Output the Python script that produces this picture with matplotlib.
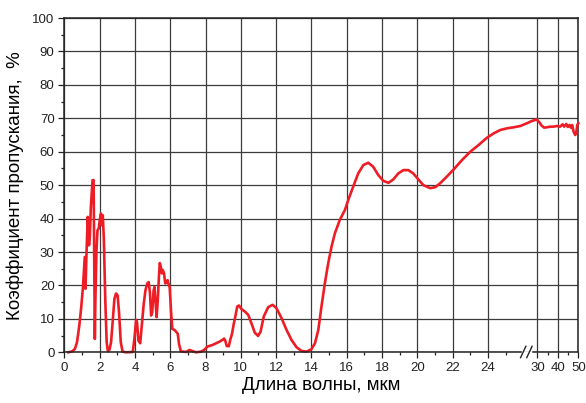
import numpy as np
import matplotlib
matplotlib.use("Agg")
import matplotlib.pyplot as plt
from matplotlib.ticker import FixedLocator, NullFormatter

plt.rcParams['font.family'] = ['Liberation Sans', 'DejaVu Sans']

# ---- data ----
wavelength = [0.23, 0.45, 0.6, 0.72, 0.85, 0.95, 1.05, 1.12, 1.16, 1.2, 1.26, 1.33, 1.4, 1.45,
              1.5, 1.56, 1.6, 1.66, 1.69, 1.73, 1.76, 1.82, 1.88, 1.95, 2.02, 2.08, 2.13, 2.18,
              2.24, 2.32, 2.4, 2.47, 2.56, 2.65, 2.74, 2.84, 2.93, 3.02, 3.1, 3.2, 3.3, 3.5,
              3.88, 3.98, 4.07, 4.12, 4.2, 4.3, 4.4, 4.5, 4.6, 4.7, 4.78, 4.85, 4.92, 4.98,
              5.06, 5.11, 5.17, 5.23, 5.3, 5.36, 5.41, 5.47, 5.53, 5.58, 5.65, 5.72, 5.79,
              5.85, 5.9, 5.97, 6.05, 6.12, 6.24, 6.33, 6.43, 6.5, 6.6, 6.9, 7.09, 7.24, 7.46,
              7.74, 7.93, 8.1, 8.4, 8.6, 8.8, 8.98, 9.05, 9.12, 9.2, 9.32, 9.4, 9.5, 9.6, 9.7,
              9.8, 9.9, 10.04, 10.23, 10.42, 10.6, 10.79, 10.98, 11.12, 11.3, 11.55, 11.8,
              12.02, 12.31, 12.59, 12.87, 13.16, 13.44, 13.72, 14.0, 14.2, 14.39, 14.57, 14.76,
              14.95, 15.14, 15.33, 15.61, 15.9, 16.09, 16.37, 16.65, 16.94, 17.22, 17.5, 17.79,
              18.07, 18.36, 18.64, 18.92, 19.21, 19.49, 19.77, 20.06, 20.34, 20.73, 21.02,
              21.3, 21.68, 22.06, 22.53, 23.0, 23.47, 23.95, 24.33, 24.7, 25.08, 25.46, 25.84,
              26.2, 26.45, 29.7, 30.0, 31.0, 32.1, 33.3, 34.6, 36.2, 37.9, 39.5, 41.1, 42.3,
              43.1, 44.1, 44.9, 45.7, 46.4, 47.0, 47.7, 48.5, 49.0, 49.5, 50.0]
transmission = [0, 0.3, 1.0, 3, 8, 13, 19, 25, 28.5, 19, 30, 40.5, 32, 35,
                43, 48, 51.5, 51.5, 30, 4, 15, 30, 36.5, 37, 40, 41.5, 38, 41,
                34, 16, 3, 0.3, 0.8, 3, 9, 16, 17.6, 17, 12, 3, 0.2, 0,
                0.1, 4.5, 9.7, 9, 3.5, 2.7, 8.5, 14.5, 18.6, 20.6, 21, 18, 11, 12,
                18.5, 19.6, 15, 10.5, 16, 22.6, 26.7, 25.5, 23.6, 24.6, 23.6, 20.6, 21,
                21.6, 20.5, 19.5, 12, 7, 6.7, 6.2, 5.5, 2.5, 0.3, 0.1, 0.7, 0.4, 0,
                0.2, 0.7, 1.7, 2.2, 2.7, 3.2, 3.8, 4.1, 3.5, 1.9, 1.8, 3.7, 5.5, 8.5, 11,
                13.7, 14.0, 12.9, 12.2, 11.2, 8.7, 5.9, 4.9, 6.2, 10.7, 13.5, 14.2,
                13.2, 10.2, 6.7, 3.7, 1.5, 0.4, 0.2, 0.9, 2.7, 6.7, 13.7, 20.6,
                26.6, 31.6, 35.6, 39.6, 42.6, 45.6, 49.6, 53.5, 56.0, 56.7, 55.5, 53.0,
                51.3, 50.7, 51.7, 53.5, 54.5, 54.5, 53.5, 51.7, 50.0, 49.1, 49.4,
                50.6, 52.6, 54.7, 57.5, 60.0, 62.0, 64.2, 65.5, 66.5, 67.0, 67.3, 67.7,
                68.5, 69.1, 69.7, 69.4, 68.8, 67.8, 67.2, 67.3, 67.5, 67.5, 67.7, 67.5, 68.2,
                67.5, 68.3, 67.4, 68.0, 67.2, 68.0, 66.0, 65.0, 65.7, 68.0, 68.5]

x_major = [0, 2, 4, 6, 8, 10, 12, 14, 16, 18, 20, 22, 24, 30, 40, 50]
x_minor = [1, 3, 5, 7, 9, 11, 13, 15, 17, 19, 21, 23, 25, 35, 45]
y_major = list(range(0, 101, 10))
y_minor = list(range(5, 100, 10))

# ---- broken axis scale ----
B1, U30, U50 = 26.55, 26.80, 29.12

def fwd(x):
    x = np.asarray(x, float)
    return np.where(x <= B1, x,
                    np.where(x <= 30, B1 + (x - B1) * (U30 - B1) / (30 - B1),
                             U30 + (x - 30) * (U50 - U30) / 20.0))

def inv(u):
    u = np.asarray(u, float)
    return np.where(u <= B1, u,
                    np.where(u <= U30, B1 + (u - B1) * (30 - B1) / (U30 - B1),
                             30 + (u - U30) * 20.0 / (U50 - U30)))

W, H = 586, 403
fig = plt.figure(figsize=(W / 100, H / 100), dpi=100)
ax = fig.add_axes([64.3 / W, (H - 352.3) / H, 514 / W, 334.3 / H])
ax.set_xscale('function', functions=(fwd, inv))
ax.set_xlim(0, 50)
ax.set_ylim(0, 100)

ax.xaxis.set_major_locator(FixedLocator(x_major))
ax.xaxis.set_minor_locator(FixedLocator(x_minor))
ax.xaxis.set_minor_formatter(NullFormatter())
ax.set_xticklabels([str(v) for v in x_major])
ax.yaxis.set_major_locator(FixedLocator(y_major))
ax.yaxis.set_minor_locator(FixedLocator(y_minor))

ax.grid(True, which='major', color='#3c3c3c', lw=0.9)
ax.set_axisbelow(True)
ax.tick_params(which='major', direction='out', length=4.5, width=0.9,
               labelsize=9.5, pad=2.5, colors='#222222')
ax.tick_params(which='minor', direction='out', length=2.5, width=0.9, colors='#222222')

for s in ['top', 'right', 'left']:
    ax.spines[s].set_color('#222222')
    ax.spines[s].set_linewidth(1.1)
ax.spines['bottom'].set_visible(False)

tr = ax.get_xaxis_transform()
ax.plot([0, 25.85], [0, 0], transform=tr, color='#222222', lw=1.1, clip_on=False, zorder=5)
ax.plot([26.55, 50], [0, 0], transform=tr, color='#222222', lw=1.1, clip_on=False, zorder=5)
for x0 in (25.85, 26.2):
    ax.plot([x0, x0 + 0.3], [-0.016, 0.018], transform=tr, color='#222222', lw=1.0,
            clip_on=False, zorder=5)

ax.plot(wavelength, transmission, color='#ee1c25', lw=1.9, zorder=4, clip_on=False)

ax.set_xlabel('Длина волны, мкм', fontsize=13.5, labelpad=2)
ax.set_ylabel('Коэффициент пропускания,  %', fontsize=13.5, labelpad=6)

fig.savefig('out.png', dpi=100)
